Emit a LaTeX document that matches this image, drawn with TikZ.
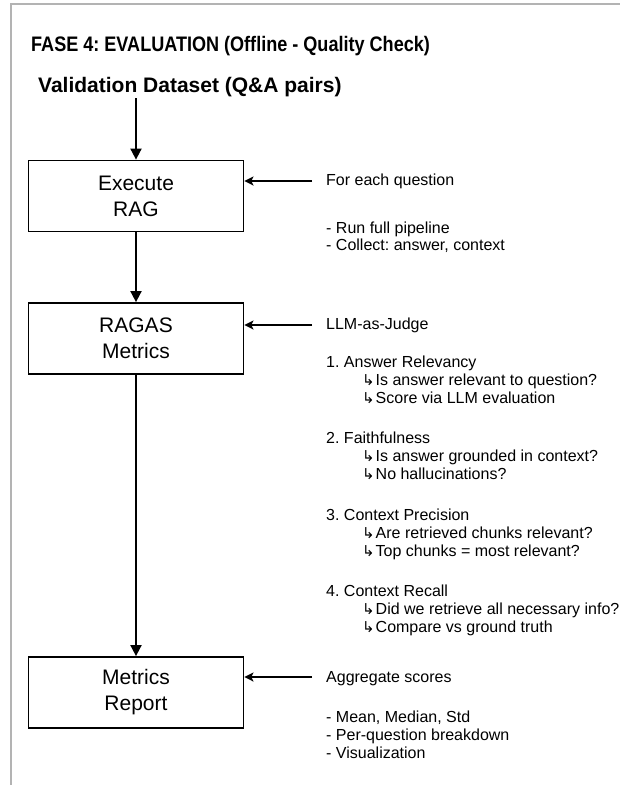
\documentclass[tikz,border=0pt]{standalone}
\usepackage{fontspec}
\setmainfont{Liberation Sans}
\newfontfamily\symfont{DejaVu Sans}
\usetikzlibrary{arrows.meta}
\definecolor{framegray}{HTML}{B3B3B3}
\frenchspacing
\newcommand{\hookitem}[1]{\makebox[13.5pt][l]{\symfont\fontsize{15}{15}\selectfont ↳}#1}
\begin{document}
\begin{tikzpicture}[x=1pt,y=-1pt,
  stage/.style={draw=black, line width=1.8pt, minimum width=215pt, minimum height=71pt,
    align=center, inner sep=0pt, font=\fontsize{21}{26}\selectfont},
  flow/.style={line width=1.8pt, -{Triangle[length=11pt,width=11pt]}},
  feed/.style={line width=1.8pt, -{Stealth[length=9pt,width=9pt,inset=2pt]}},
  note/.style={anchor=mid west, inner sep=0pt, font=\fontsize{16}{18}\selectfont},
  heading/.style={anchor=base west, inner sep=0pt, font=\bfseries\fontsize{21}{24}\selectfont},
]
\useasboundingbox (0,0) rectangle (620,785);
% page frame (top and left edges)
\draw[line width=2pt, color=framegray] (10.5,785) -- (10.5,4) -- (620,4);

% headings
\node[heading] (title) at (31,51)
  {\scalebox{0.86}[1]{FASE 4: EVALUATION (Offline - Quality Check)}};
\node[heading] (dataset) at (38,92) {Validation Dataset (Q\&A pairs)};

% pipeline stages
\node[stage] (exec) at (136,196) {Execute\\RAG};
\node[stage] (ragas) at (136,338.5) {RAGAS\\Metrics};
\node[stage] (report) at (136,692.5) {Metrics\\Report};

\coordinate (start) at (136,98);
\draw[flow] (start) -- (exec.north);
\draw[flow] (exec) -- (ragas);
\draw[flow] (ragas) -- (report);

% side notes
\node[note] (n1) at (326,183) {For each question};
\node[note] (n1a) at (326,231) {- Run full pipeline};
\node[note] (n1b) at (326,248) {- Collect: answer, context};

\node[note] (n2) at (326,327) {LLM-as-Judge};
\node[note] (m1) at (326,365) {1. Answer Relevancy};
\node[note] (m1a) at (362,383) {\hookitem{Is answer relevant to question?}};
\node[note] (m1b) at (362,401) {\hookitem{Score via LLM evaluation}};
\node[note] (m2) at (326,441) {2. Faithfulness};
\node[note] (m2a) at (362,459) {\hookitem{Is answer grounded in context?}};
\node[note] (m2b) at (362,477) {\hookitem{No hallucinations?}};
\node[note] (m3) at (326,518) {3. Context Precision};
\node[note] (m3a) at (362,536) {\hookitem{Are retrieved chunks relevant?}};
\node[note] (m3b) at (362,554) {\hookitem{Top chunks = most relevant?}};
\node[note] (m4) at (326,594) {4. Context Recall};
\node[note] (m4a) at (362,612) {\hookitem{Did we retrieve all necessary info?}};
\node[note] (m4b) at (362,630) {\hookitem{Compare vs ground truth}};

\node[note] (n3) at (326,680) {Aggregate scores};
\node[note] (n3a) at (326,720) {- Mean, Median, Std};
\node[note] (n3b) at (326,738) {- Per-question breakdown};
\node[note] (n3c) at (326,756) {- Visualization};

% feedback arrows into the stages
\coordinate (f1) at (312,181);
\coordinate (f2) at (312,325);
\coordinate (f3) at (312,677);
\draw[feed] (f1) -- (exec.east |- f1);
\draw[feed] (f2) -- (ragas.east |- f2);
\draw[feed] (f3) -- (report.east |- f3);
\end{tikzpicture}
\end{document}
